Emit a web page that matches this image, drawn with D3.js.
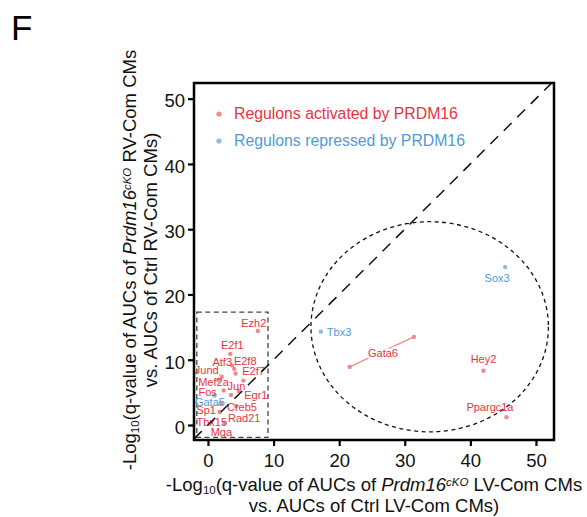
<!DOCTYPE html>
<html>
<head>
<meta charset="utf-8">
<script src="https://cdn.jsdelivr.net/npm/d3@7"></script>
<style>
body { margin: 0; background: #fff; }
text { font-family: "Liberation Sans", Arial, sans-serif; }
</style>
</head>
<body>
<script>
// regulon points (x = LV -log10 q, y = RV -log10 q)
var genes  = ["Ezh2","E2f1","Atf3","E2f8","E2f7","Jund","Mef2a","Jun","Fos","Egr1","Gata5","Creb5","Sp1","Rad21","Tbx15","Mga","Tbx3","Sox3","Gata6","Gata6","Hey2","Ppargc1a"];
var xVals  = [7.6, 3.4, 3.7, 4.0, 4.2, 2.1, 1.6, 5.4, 2.4, 4.7, 1.0, 3.5, 2.0, 4.3, 1.8, 2.5, 17.2, 45.3, 21.6, 31.4, 42.0, 45.5];
var yVals  = [14.4, 10.9, 9.1, 8.6, 7.9, 7.4, 6.9, 6.8, 5.3, 5.2, 4.5, 4.6, 3.3, 2.9, 2.0, 0.3, 14.3, 24.2, 8.9, 13.5, 8.3, 1.2];
var groups = ["act","act","act","act","act","act","act","act","act","act","rep","act","act","act","act","act","rep","rep","act","act","act","act"];
var legendLabels = ["Regulons activated by PRDM16", "Regulons repressed by PRDM16"];
var xTicks = [0, 10, 20, 30, 40, 50];
var yTicks = [0, 10, 20, 30, 40, 50];
// highlight shapes in data units
var boxX = [-1.7, 9.15], boxY = [-1.9, 17.3];
var ellipseC = [33.8, 15.05], ellipseR = [18.1, 16.1];

// label placement (px offset from point, anchor)
var labelPos = {
  "Ezh2": [-4, -4, "middle"], "E2f1": [2, -5, "middle"], "Atf3": [-10, 0.5, "middle"],
  "E2f8": [11, -4, "middle"], "E2f7": [18, 2, "middle"], "Jund": [-15, -3, "middle"],
  "Mef2a": [-5, 6, "middle"], "Jun": [-7, 9, "middle"], "Fos": [-16, 5.5, "middle"],
  "Egr1": [17, 7.5, "middle"], "Gata5": [-4.6, 10, "middle"], "Creb5": [11, 16, "middle"],
  "Sp1": [-15, 11, "middle"], "Rad21": [8, 16, "middle"], "Tbx15": [-8, 14, "middle"],
  "Mga": [-3, 13, "middle"], "Tbx3": [6, 4.5, "start"], "Sox3": [-8, 15, "middle"],
  "Hey2": [0, -8, "middle"], "Ppargc1a": [-16.5, -6, "middle"]
};

var colors = { act: "#ee8a8c", rep: "#8abfe3" };
var textColors = { act: "#e8333d", rep: "#4f9bd6" };

var W = 587, H = 517;
var margin = {top: 83, left: 194},
    width = 360, height = 357;

var svg = d3.select("body").append("svg")
    .attr("width", W)
    .attr("height", H);

svg.append("text")
    .attr("x", 11).attr("y", 40)
    .style("font-size", "35px")
    .text("F");

var g = svg.append("g")
    .attr("transform", "translate(" + margin.left + "," + margin.top + ")");

var x = d3.scaleLinear().domain([-2.13, 52.75]).range([0, width]);
var y = d3.scaleLinear().domain([-2.3, 52.4]).range([height, 0]);

g.append("clipPath").attr("id", "clip")
    .append("rect").attr("width", width).attr("height", height);

var data = genes.map(function(d, i) {
    return {name: d, x: xVals[i], y: yVals[i], group: groups[i]};
});

// axes
var xAxis = d3.axisBottom(x).tickValues(xTicks).tickSize(6).tickPadding(8);
var yAxis = d3.axisLeft(y).tickValues(yTicks).tickSize(6).tickPadding(3);

var gx = g.append("g").attr("transform", "translate(0," + height + ")").call(xAxis);
var gy = g.append("g").call(yAxis);
[gx, gy].forEach(function(a) {
    a.select(".domain").remove();
    a.selectAll("line").attr("stroke", "#000").attr("stroke-width", 2.2);
    a.selectAll("text")
        .style("font-size", "18.5px")
        .attr("fill", "#111")
        .style("font-family", "'Liberation Sans', Arial, sans-serif");
});
gy.selectAll("text").attr("dy", "0.45em");

// dashed box
g.append("rect")
    .attr("x", x(boxX[0])).attr("y", y(boxY[1]))
    .attr("width", x(boxX[1]) - x(boxX[0]))
    .attr("height", y(boxY[0]) - y(boxY[1]))
    .attr("fill", "none")
    .attr("stroke", "#444")
    .attr("stroke-width", 1.3)
    .attr("stroke-dasharray", "5,3.5");

// dashed ellipse
g.append("ellipse")
    .attr("cx", x(ellipseC[0])).attr("cy", y(ellipseC[1]))
    .attr("rx", x(ellipseR[0]) - x(0))
    .attr("ry", y(0) - y(ellipseR[1]))
    .attr("fill", "none")
    .attr("stroke", "#111")
    .attr("stroke-width", 1.3)
    .attr("stroke-dasharray", "4,3.5");

// Gata6 connector
var gata6 = data.filter(function(d) { return d.name === "Gata6"; });
g.append("line")
    .attr("x1", x(gata6[0].x)).attr("y1", y(gata6[0].y))
    .attr("x2", x(gata6[1].x)).attr("y2", y(gata6[1].y))
    .attr("stroke", colors.act).attr("stroke-width", 1.2);

// points
g.selectAll("circle.pt")
    .data(data)
    .enter().append("circle")
    .attr("class", "pt")
    .attr("cx", function(d) { return x(d.x); })
    .attr("cy", function(d) { return y(d.y); })
    .attr("r", 2.2)
    .attr("fill", function(d) { return colors[d.group]; });

// leader segments for crowded labels
["Jund", "Sp1"].forEach(function(n) {
    var d = data.find(function(e) { return e.name === n; });
    var p = labelPos[n];
    g.append("line")
        .attr("x1", x(d.x) + p[0] + (n === "Jund" ? 12 : 8)).attr("y1", y(d.y) + p[1] - (n === "Jund" ? 0 : 9))
        .attr("x2", x(d.x) - 1).attr("y2", y(d.y) + (n === "Jund" ? -1 : 1))
        .attr("stroke", colors.act).attr("stroke-width", 1);
});

// labels
var labeled = data.filter(function(d) { return labelPos[d.name]; });
g.selectAll("text.lab")
    .data(labeled)
    .enter().append("text")
    .attr("class", "lab")
    .attr("x", function(d) { return x(d.x) + labelPos[d.name][0]; })
    .attr("y", function(d) { return y(d.y) + labelPos[d.name][1]; })
    .attr("text-anchor", function(d) { return labelPos[d.name][2]; })
    .style("font-size", "11px")
    .attr("fill", function(d) { return textColors[d.group]; })
    .text(function(d) { return d.name; });

// Gata6 label with white halo over its connector
g.append("text")
    .attr("x", x(gata6[1].x) - 31)
    .attr("y", y(gata6[1].y) + 20)
    .attr("text-anchor", "middle")
    .style("font-size", "11px")
    .attr("fill", textColors.act)
    .attr("stroke", "#fff").attr("stroke-width", 5)
    .attr("paint-order", "stroke")
    .text("Gata6");

// diagonal y = x
var dom = x.domain();
g.append("line")
    .attr("clip-path", "url(#clip)")
    .attr("x1", x(dom[0])).attr("y1", y(dom[0]))
    .attr("x2", x(dom[1])).attr("y2", y(dom[1]))
    .attr("stroke", "#111")
    .attr("stroke-width", 1.5)
    .attr("stroke-dasharray", "11,8");

// frame
g.append("rect")
    .attr("width", width).attr("height", height)
    .attr("fill", "none")
    .attr("stroke", "#000")
    .attr("stroke-width", 2.5);

// legend
var legend = g.selectAll("g.leg")
    .data(legendLabels)
    .enter().append("g")
    .attr("class", "leg")
    .attr("transform", function(d, i) { return "translate(25," + (31 + i * 27) + ")"; });
legend.append("circle")
    .attr("r", 2.6)
    .attr("fill", function(d, i) { return i === 0 ? colors.act : colors.rep; });
legend.append("text")
    .attr("x", 15).attr("y", 5)
    .style("font-size", "15.8px")
    .attr("fill", function(d, i) { return i === 0 ? textColors.act : textColors.rep; })
    .text(function(d) { return d; });

// axis titles
function logTitle(sel, side) {
    sel.append("tspan").text("-Log");
    sel.append("tspan").attr("baseline-shift", "-25%").style("font-size", "11.5px").text("10");
    sel.append("tspan").text("(q-value of AUCs of ");
    sel.append("tspan").style("font-style", "italic").text("Prdm16");
    sel.append("tspan").attr("baseline-shift", "45%").style("font-size", "11.5px").style("font-style", "italic").text("cKO");
    sel.append("tspan").text(" " + side + "-Com CMs");
}

var cx = margin.left + width / 2;
var xt1 = svg.append("text")
    .attr("x", cx).attr("y", 491)
    .attr("text-anchor", "middle")
    .style("font-size", "18.5px").attr("fill", "#111");
logTitle(xt1, "LV");
svg.append("text")
    .attr("x", cx).attr("y", 512)
    .attr("text-anchor", "middle")
    .style("font-size", "18.5px").attr("fill", "#111")
    .text("vs. AUCs of Ctrl LV-Com CMs)");

var cy = 260;
var yt1 = svg.append("text")
    .attr("transform", "translate(136," + cy + ") rotate(-90)")
    .attr("text-anchor", "middle")
    .style("font-size", "18.5px").attr("fill", "#111");
logTitle(yt1, "RV");
svg.append("text")
    .attr("transform", "translate(157," + cy + ") rotate(-90)")
    .attr("text-anchor", "middle")
    .style("font-size", "18.5px").attr("fill", "#111")
    .text("vs. AUCs of Ctrl RV-Com CMs)");
</script>
</body>
</html>
